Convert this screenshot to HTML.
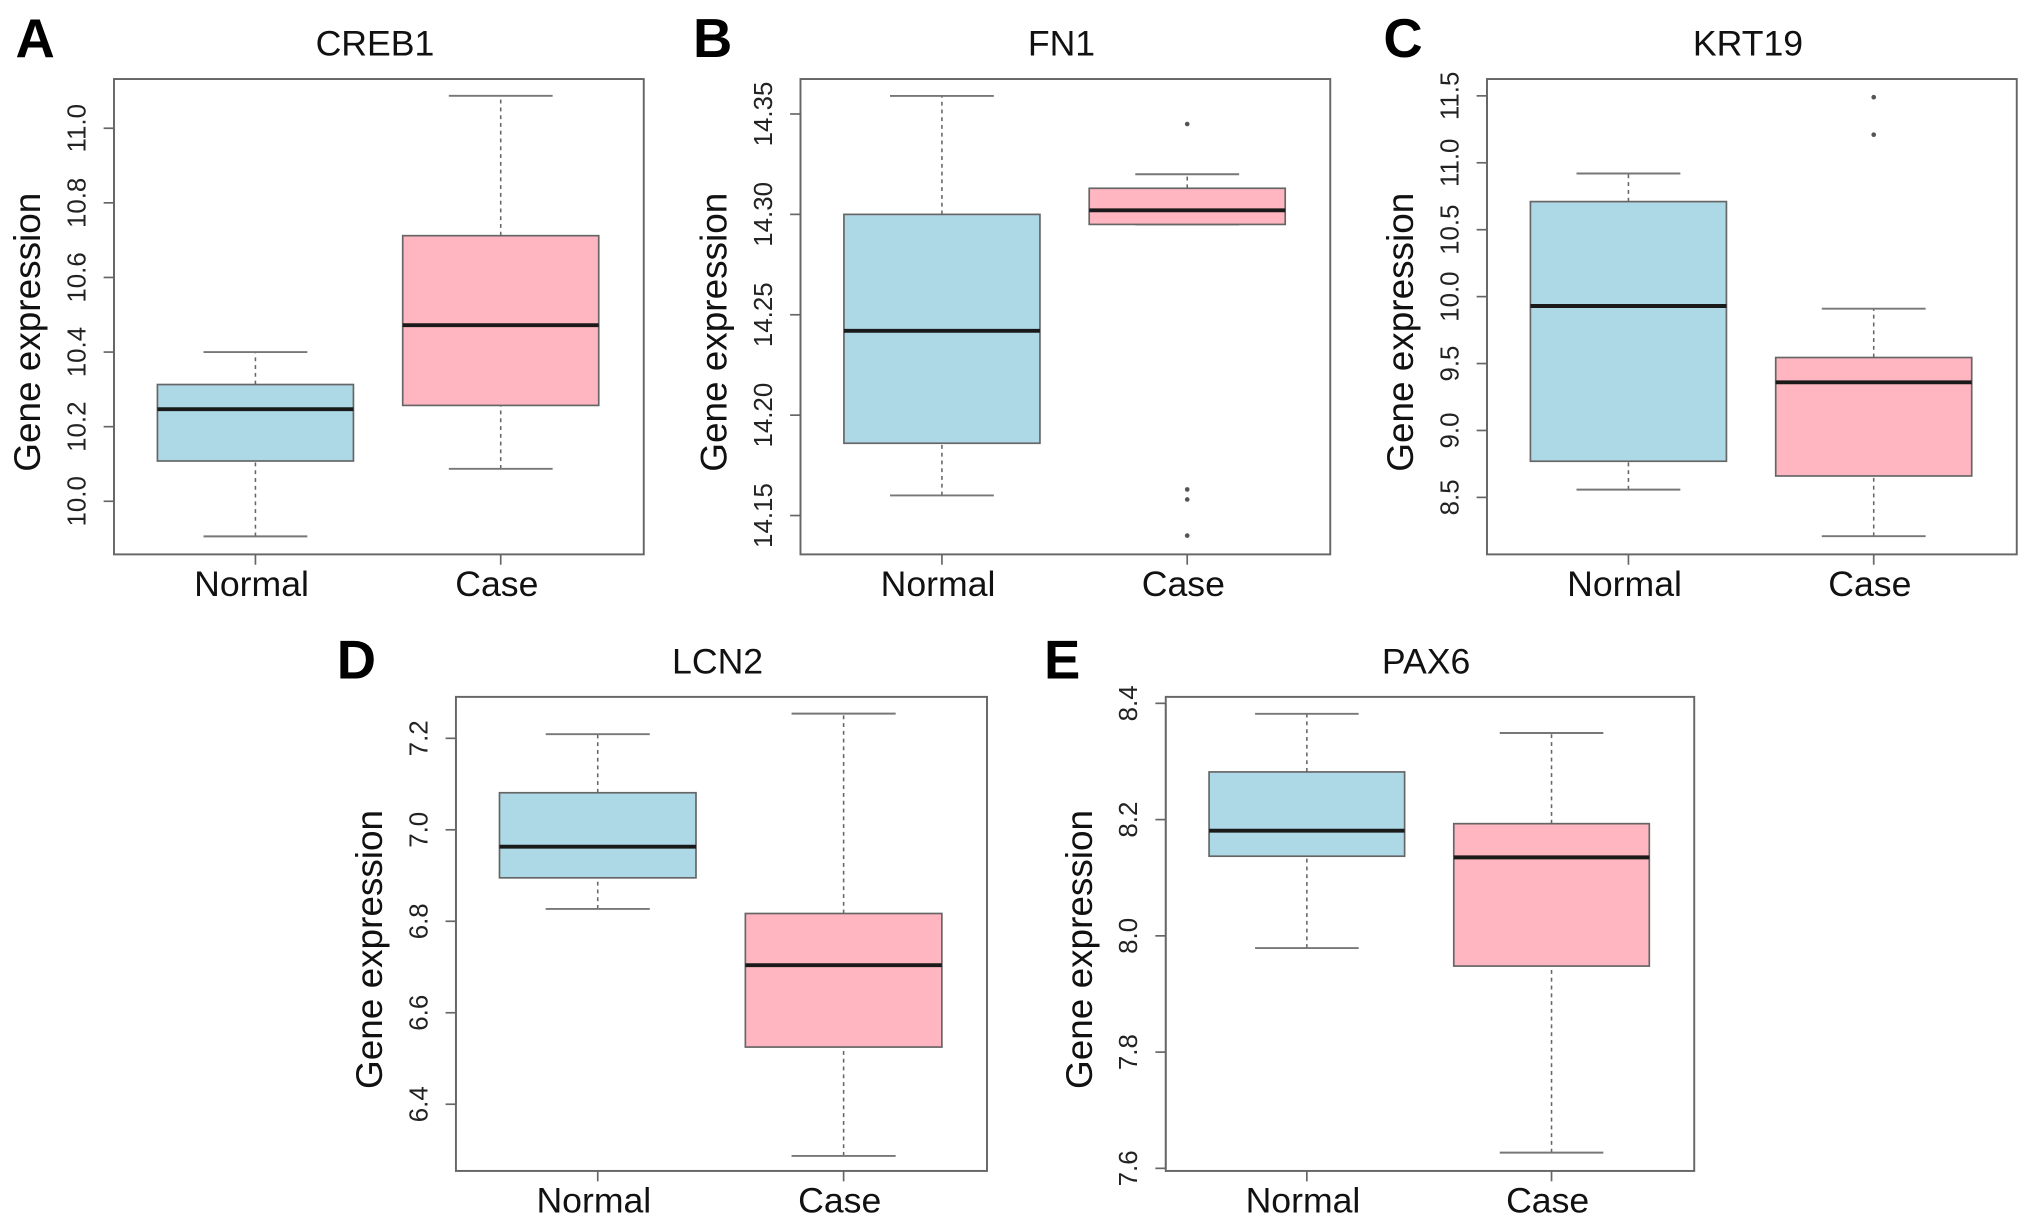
<!DOCTYPE html>
<html><head><meta charset="utf-8"><style>
html,body{margin:0;padding:0;background:#fff;}
svg{display:block;font-family:"Liberation Sans",Arial,sans-serif;}
</style></head><body>
<svg id="fig" width="2031" height="1226" viewBox="0 0 1568 946.5" xmlns="http://www.w3.org/2000/svg"></svg>
<script>
// ---- data (five-number summaries: lower whisker, Q1, median, Q3, upper whisker) ----
const genes = ["CREB1","FN1","KRT19","LCN2","PAX6"];
const letters = ["A","B","C","D","E"];
const groups = ["Normal","Case"];
const creb1Normal = [9.906,10.108,10.247,10.313,10.40];
const creb1Case = [10.087,10.257,10.472,10.712,11.087];
const fn1Normal = [14.160,14.186,14.242,14.300,14.359];
const fn1Case = [14.295,14.295,14.302,14.313,14.320];
const krt19Normal = [8.558,8.77,9.93,10.71,10.92];
const krt19Case = [8.21,8.66,9.36,9.545,9.91];
const lcn2Normal = [6.827,6.895,6.963,7.081,7.209];
const lcn2Case = [6.287,6.525,6.704,6.817,7.254];
const pax6Normal = [7.979,8.137,8.181,8.282,8.382];
const pax6Case = [7.627,7.948,8.135,8.193,8.349];
const fn1CaseOutliers = [14.345,14.163,14.158,14.140];
const krt19CaseOutliers = [11.49,11.21];
const creb1Ticks = ["10.0","10.2","10.4","10.6","10.8","11.0"];
const fn1Ticks = ["14.15","14.20","14.25","14.30","14.35"];
const krt19Ticks = ["8.5","9.0","9.5","10.0","10.5","11.0","11.5"];
const lcn2Ticks = ["6.4","6.6","6.8","7.0","7.2"];
const pax6Ticks = ["7.6","7.8","8.0","8.2","8.4"];

// ---- layout ----
const panels = [
 {x0:88,x1:497,y0:61,y1:428,vLo:10.0,yLo:387,vHi:11.0,yHi:99,ticks:creb1Ticks,data:[creb1Normal,creb1Case],out:[[],[]],lx:12,ly:44},
 {x0:618,x1:1027,y0:61,y1:428,vLo:14.15,yLo:398,vHi:14.35,yHi:88,ticks:fn1Ticks,data:[fn1Normal,fn1Case],out:[[],fn1CaseOutliers],lx:535,ly:44},
 {x0:1148,x1:1557,y0:61,y1:428,vLo:8.5,yLo:384,vHi:11.5,yHi:74,ticks:krt19Ticks,data:[krt19Normal,krt19Case],out:[[],krt19CaseOutliers],lx:1068,ly:44},
 {x0:352,x1:762,y0:538,y1:904,vLo:6.4,yLo:852.5,vHi:7.2,yHi:570,ticks:lcn2Ticks,data:[lcn2Normal,lcn2Case],out:[[],[]],lx:260,ly:524},
 {x0:900,x1:1308,y0:538,y1:904,vLo:7.6,yLo:902,vHi:8.4,yHi:543,ticks:pax6Ticks,data:[pax6Normal,pax6Case],out:[[],[]],lx:806,ly:524}
];
const svg = document.getElementById('fig');
const NS = "http://www.w3.org/2000/svg";
function mk(tag, attrs, parent){const e=document.createElementNS(NS,tag);for(const k in attrs)e.setAttribute(k,attrs[k]);(parent||svg).appendChild(e);return e;}

panels.forEach((p,i)=>{
  const g = mk('g',{});
  
  
  const yScale = v => p.yLo + (v - p.vLo)*(p.yHi - p.yLo)/(p.vHi - p.vLo);
  const w = p.x1 - p.x0;
  const xScale = j => p.x0 + w*(j===0?0.267:0.73);
  const cx = (p.x0+p.x1)/2;
  const L = mk('text',{x:p.lx,y:p.ly,'font-size':42,'font-weight':'bold',fill:'#000'},g);
  L.textContent = letters[i];
  
  
  const T = mk('text',{x:cx-3,y:p.y0-18,'font-size':27.5,'text-anchor':'middle',fill:'#111'},g);
  T.textContent = genes[i];
  
  
  const my=(p.y0+p.y1)/2+12;
  const A = mk('text',{x:p.x0-57,y:my,'font-size':28.5,'text-anchor':'middle',fill:'#111',transform:`rotate(-90 ${p.x0-57} ${my})`},g);
  A.textContent = "Gene expression";
  
  
  // y axis
  const vals = p.ticks.map(Number);
  const ax = mk('line',{x1:p.x0,x2:p.x0,y1:yScale(vals[0]),y2:yScale(vals[vals.length-1]),stroke:'#666','stroke-width':1.3},g);
  
  
  p.ticks.forEach(t=>{
    const y = yScale(Number(t));
    const tk = mk('line',{x1:p.x0-8,x2:p.x0,y1:y,y2:y,stroke:'#666','stroke-width':1.3},g);
    
    
    const tl = mk('text',{x:p.x0-22,y:y,'font-size':20,'text-anchor':'middle',fill:'#222',transform:`rotate(-90 ${p.x0-22} ${y})`},g);
    tl.textContent = t;
    
    
  });
  // boxes
  p.data.forEach((d,j)=>{
    const x = xScale(j), hw = w*0.185, cw = w*0.098;
    const col = j===0?'#add8e6':'#ffb6c1';
    const bg = mk('g',{},g);
    
    
    mk('line',{x1:x,x2:x,y1:yScale(d[0]),y2:yScale(d[1]),stroke:'#666','stroke-width':1.2,'stroke-dasharray':'3,3'},bg);
    mk('line',{x1:x,x2:x,y1:yScale(d[3]),y2:yScale(d[4]),stroke:'#666','stroke-width':1.2,'stroke-dasharray':'3,3'},bg);
    mk('line',{x1:x-cw,x2:x+cw,y1:yScale(d[0]),y2:yScale(d[0]),stroke:'#777','stroke-width':1.5},bg);
    mk('line',{x1:x-cw,x2:x+cw,y1:yScale(d[4]),y2:yScale(d[4]),stroke:'#777','stroke-width':1.5},bg);
    mk('rect',{x:x-hw,y:yScale(d[3]),width:2*hw,height:Math.max(1,yScale(d[1])-yScale(d[3])),fill:col,stroke:'#666','stroke-width':1.3},bg);
    mk('line',{x1:x-hw,x2:x+hw,y1:yScale(d[2]),y2:yScale(d[2]),stroke:'#1a1a1a','stroke-width':3},bg);
    p.out[j].forEach(v=>{
      const c = mk('circle',{cx:x,cy:yScale(v),r:1.8,fill:'#555'},g);
      
      
    });
    const xt = mk('line',{x1:x,x2:x,y1:p.y1,y2:p.y1+8,stroke:'#666','stroke-width':1.3},g);
    
    
    const xl = mk('text',{x:x-3,y:p.y1+32,'font-size':27.5,'text-anchor':'middle',fill:'#111'},g);
    xl.textContent = groups[j];
    
    
  });
  const fr = mk('rect',{x:p.x0,y:p.y0,width:w,height:p.y1-p.y0,fill:'none',stroke:'#666','stroke-width':1.5},g);
  
  
});
</script>
</body></html>
